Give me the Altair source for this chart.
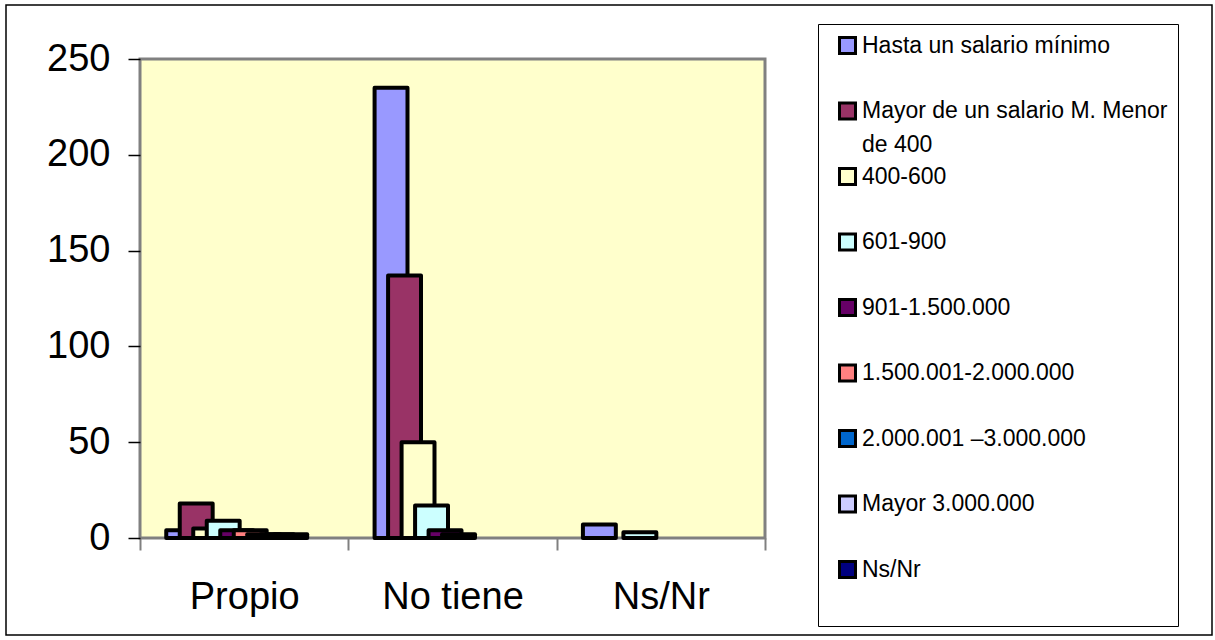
import json

import altair as alt
import pandas as pd

# Categories, series and counts per income bracket
groups = ["Propio", "No tiene", "Ns/Nr"]
series = [
    "Hasta un salario mínimo",
    "Mayor de un salario M. Menor de 400",
    "400-600",
    "601-900",
    "901-1.500.000",
    "1.500.001-2.000.000",
    "2.000.001 –3.000.000",
    "Mayor 3.000.000",
    "Ns/Nr",
]
colors = ["#9999FF", "#993366", "#FFFFCC", "#CCFFFF", "#660066",
          "#FF8080", "#0066CC", "#CCCCFF", "#000080"]

propio = [4, 18, 5, 9, 4, 4, 2, 2, 2]
no_tiene = [235, 137, 50, 17, 4, 2, 0, 0, 0]
ns_nr = [7, 0, 0, 3, 0, 0, 0, 0, 0]

y_ticks = [0, 50, 100, 150, 200, 250]

# long table, series-major so later series are drawn on top of earlier ones
rows = []
for si, s in enumerate(series):
    for gi, vals in enumerate([propio, no_tiene, ns_nr]):
        rows.append({"grupo": groups[gi], "g": gi, "serie": s, "s": si, "valor": vals[si]})
df = pd.DataFrame(rows)

# overlapping-bar layout, in category units (each category spans 1.0)
FIRST = 0.126   # left edge of the first bar inside its category
STEP = 0.0648   # shift between consecutive series
BAR = 0.158     # bar width

FONT = "Liberation Sans"

x_values = [0, 0.5, 1, 1.5, 2, 2.5, 3]
x_label_expr = (
    "datum.value % 1 === 0.5 ? "
    + json.dumps(groups, ensure_ascii=False)
    + "[floor(datum.value)] : ''"
)

# the long legend entry is split over two lines
long_label = series[1]
legend_label_expr = (
    "datum.label === " + json.dumps(long_label, ensure_ascii=False)
    + " ? " + json.dumps(["Mayor de un salario M. Menor", "de 400"], ensure_ascii=False)
    + " : datum.label"
)

bars = (
    alt.Chart(df)
    .transform_filter("datum.valor > 0")
    .transform_calculate(x0=f"datum.g + {FIRST} + datum.s * {STEP}")
    .transform_calculate(x1=f"datum.x0 + {BAR}")
    .mark_bar(stroke="black", strokeWidth=4, strokeJoin="round")
    .encode(
        x=alt.X(
            "x0:Q",
            scale=alt.Scale(domain=[0, 3], nice=False, zero=False),
            axis=alt.Axis(
                values=x_values,
                labelExpr=x_label_expr,
                tickOpacity={"condition": {"test": "datum.value % 1 === 0", "value": 1}, "value": 0},
                tickColor="#808080",
                tickWidth=2,
                tickSize=12,
                labelPadding=28,
                labelFontSize=38,
                labelFont=FONT,
                labelColor="black",
                labelOverlap=False,
                labelFlush=False,
                domain=False,
                grid=False,
                title=None,
            ),
        ),
        x2="x1:Q",
        y=alt.Y(
            "valor:Q",
            scale=alt.Scale(domain=[0, 250], nice=False),
            axis=alt.Axis(
                values=y_ticks,
                labelFontSize=38,
                labelFont=FONT,
                labelColor="black",
                labelPadding=18,
                tickColor="black",
                tickSize=12,
                tickWidth=1.5,
                domain=False,
                grid=False,
                title=None,
            ),
        ),
        y2=alt.datum(0),
        color=alt.Color(
            "serie:N",
            scale=alt.Scale(domain=series, range=colors),
            legend=alt.Legend(
                title=" ",
                titleOrient="bottom",
                titlePadding=17,
                titleFontSize=15,
                orient="none",
                legendX=678,
                legendY=-35,
                direction="vertical",
                gridAlign="all",
                symbolType="square",
                symbolSize=256,
                symbolStrokeColor="black",
                symbolStrokeWidth=3,
                symbolOffset=8,
                labelOffset=3,
                labelFontSize=23,
                labelFont=FONT,
                labelColor="black",
                labelLimit=400,
                labelExpr=legend_label_expr,
                rowPadding=4.5,
                padding=10,
                strokeColor="black",
                fillColor="white",
            ),
        ),
    )
)

# thin border around the whole figure
frame = (
    alt.Chart(alt.Data(values=[{"k": 1}]))
    .mark_rect(fillOpacity=0, stroke="black", strokeWidth=1.5)
    .encode(
        x=alt.value(-134),
        x2=alt.value(1072),
        y=alt.value(-54),
        y2=alt.value(576),
    )
)

chart = (
    alt.layer(frame, bars)
    .properties(
        width=625,
        height=479,
        autosize=alt.AutoSizeParams(type="none"),
        padding={"left": 140, "top": 59, "right": 450, "bottom": 102},
        background="white",
    )
    .configure(
        font=FONT,
        style={"guide-label": {"lineHeight": 34}},
        view=alt.ViewConfig(fill="#FFFFCC", stroke="#808080", strokeWidth=3),
    )
)

chart.save("out.html", embed_options={"renderer": "svg", "actions": False})
